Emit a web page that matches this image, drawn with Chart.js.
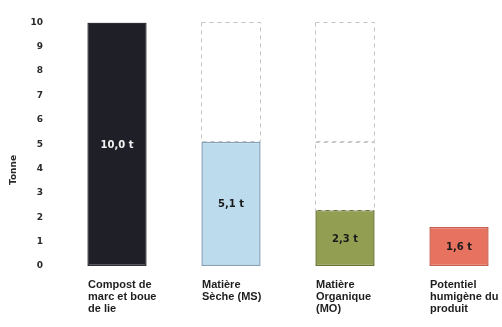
<!DOCTYPE html>
<html>
<head>
<meta charset="utf-8">
<script src="https://cdn.jsdelivr.net/npm/chart.js@4/dist/chart.umd.min.js"></script>
<style>
  html, body { margin: 0; padding: 0; background: #fff; overflow: hidden; }
  #wrap { width: 520px; height: 327px; }
</style>
</head>
<body>
<div id="wrap"><canvas id="chart" width="520" height="327"></canvas></div>
<script>
// categories and values
const categories = [
  ["Compost de", "marc et boue", "de lie"],
  ["Matière", "Sèche (MS)"],
  ["Matière", "Organique", "(MO)"],
  ["Potentiel", "humigène du", "produit"]
];
const tonnes = [10.0, 5.1, 2.3, 1.6];
const valueLabels = ["10,0 t", "5,1 t", "2,3 t", "1,6 t"];
// dashed "lost" boxes above the bars
const ghostUpper = [null, [5.1, 10], [5.1, 10], null];
const ghostLower = [null, null, [2.3, 5.1], null];
const yTicks = [0, 1, 2, 3, 4, 5, 6, 7, 8, 9, 10];

const fills = ["#1f1f27", "#bcdcee", "#929e52", "#e6725f"];
const borders = ["#2e2e36", "#86a3ba", "#68742f", "#c85f4d"];
const labelColors = ["#f2f2f2", "#1a1a1a", "#1a1a1a", "#1a1a1a"];
const FONT = "'DejaVu Sans', sans-serif";
const LABEL_FONT = "'Liberation Sans', Arial, sans-serif";

const dashedBoxes = {
  id: "dashedBoxes",
  afterDatasetsDraw(chart) {
    const ctx = chart.ctx;
    ctx.save();
    ctx.strokeStyle = "#c4c4c4";
    ctx.lineWidth = 1;
    ctx.setLineDash([4, 4]);
    chart.data.datasets.forEach((ds, i) => {
      if (!ds.ghost) return;
      chart.getDatasetMeta(i).data.forEach((bar, j) => {
        if (ds.data[j] == null) return;
        const p = bar.getProps(["x", "y", "base", "width"], true);
        const left = Math.round(p.x - p.width / 2) + 0.5;
        const top = Math.round(Math.min(p.y, p.base)) + 0.5;
        const h = Math.abs(p.base - p.y);
        ctx.strokeRect(left, top, Math.round(p.width), Math.round(h));
      });
    });
    ctx.restore();
  }
};

const barLabels = {
  id: "barLabels",
  afterDatasetsDraw(chart) {
    const ctx = chart.ctx;
    const meta = chart.getDatasetMeta(0);
    ctx.save();
    ctx.font = "bold 10px " + FONT;
    ctx.textAlign = "center";
    ctx.textBaseline = "middle";
    meta.data.forEach((bar, j) => {
      const p = bar.getProps(["x", "y", "base"], true);
      ctx.fillStyle = labelColors[j];
      ctx.fillText(valueLabels[j], p.x, (p.y + p.base) / 2 + 1);
    });
    // axis title
    ctx.translate(14, 170);
    ctx.rotate(-Math.PI / 2);
    ctx.fillStyle = "#2a2a2a";
    ctx.font = "bold 9px " + FONT;
    ctx.fillText("Tonne", 0, 0);
    ctx.restore();
  }
};

new Chart(document.getElementById("chart"), {
  type: "bar",
  data: {
    labels: categories,
    datasets: [
      {
        data: tonnes,
        backgroundColor: fills,
        borderColor: borders,
        borderWidth: 1.5,
        borderSkipped: false,
        grouped: false,
        barPercentage: 0.52,
        categoryPercentage: 1,
        order: 1
      },
      {
        ghost: true,
        data: ghostUpper,
        backgroundColor: "rgba(0,0,0,0)",
        borderWidth: 0,
        grouped: false,
        barPercentage: 0.52,
        categoryPercentage: 1,
        order: 2
      },
      {
        ghost: true,
        data: ghostLower,
        backgroundColor: "rgba(0,0,0,0)",
        borderWidth: 0,
        grouped: false,
        barPercentage: 0.52,
        categoryPercentage: 1,
        order: 3
      }
    ]
  },
  options: {
    responsive: false,
    devicePixelRatio: 1,
    animation: false,
    layout: { padding: { top: 20, right: 4, left: 0, bottom: 0 } },
    plugins: {
      legend: { display: false },
      tooltip: { enabled: false }
    },
    scales: {
      x: {
        grid: { display: false, drawTicks: false },
        border: { display: false },
        afterFit: (scale) => {
          scale.height = 61;
          // labels hang off the right edge, don't let them squeeze the plot
          scale.paddingLeft = 0;
          scale.paddingRight = 0;
        },
        ticks: {
          align: "start",
          labelOffset: -29,
          padding: 13,
          color: "#1e1e1e",
          font: { family: LABEL_FONT, size: 11, weight: "bold", lineHeight: 1.1 }
        }
      },
      y: {
        min: 0,
        max: 10,
        afterFit: (scale) => { scale.width = 60; },
        afterBuildTicks: (scale) => { scale.ticks = yTicks.map((v) => ({ value: v })); },
        grid: { display: false, drawTicks: false },
        border: { display: false },
        ticks: {
          padding: 17,
          color: "#2a2a2a",
          font: { family: FONT, size: 9, weight: "bold" }
        }
      }
    }
  },
  plugins: [dashedBoxes, barLabels]
});
</script>
</body>
</html>
